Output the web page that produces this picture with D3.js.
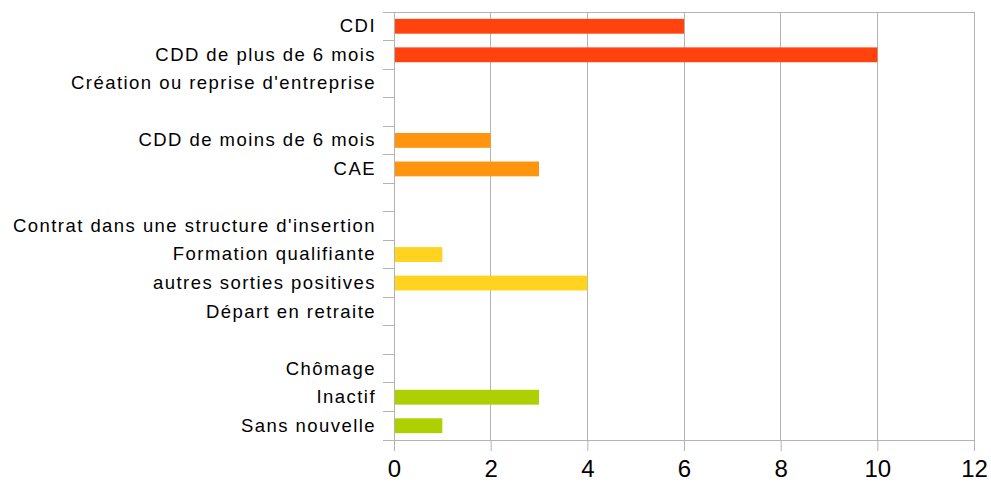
<!DOCTYPE html>
<html><head><meta charset="utf-8">
<script src="https://cdn.jsdelivr.net/npm/d3@7"></script>
<style>body{margin:0;background:#fff}svg{display:block}</style>
</head><body>
<svg id="c" width="991" height="483"></svg>
<script>
const categories = ["CDI","CDD de plus de 6 mois","Création ou reprise d'entreprise","_gap1","CDD de moins de 6 mois","CAE","_gap2","Contrat dans une structure d'insertion","Formation qualifiante","autres sorties positives","Départ en retraite","_gap3","Chômage","Inactif","Sans nouvelle"];
const values = [6,10,0,0,2,3,0,0,1,4,0,0,0,3,1];
const groups = [0,0,0,0,1,1,1,2,2,2,2,3,3,3,3];
const groupColors = ["#ff420e","#ff950e","#ffd320","#aecf00"];
const xTicks = [0,2,4,6,8,10,12];

const svg = d3.select("#c");
const L = 394, R = 974, T = 12, B = 440;
const x = d3.scaleLinear().domain([0,12]).range([L,R]);
const y = d3.scaleBand().domain(categories).range([T,B]).padding(0);

// vertical grid
svg.append("g").selectAll("line").data(xTicks).join("line")
  .attr("x1",d=>x(d)).attr("x2",d=>x(d)).attr("y1",T).attr("y2",B)
  .attr("stroke","#b3b3b3").attr("stroke-width",1).attr("shape-rendering","crispEdges");
// top line
svg.append("line").attr("x1",L-11).attr("x2",R).attr("y1",T).attr("y2",T)
  .attr("stroke","#b3b3b3").attr("shape-rendering","crispEdges");

// bars
const bh = y.bandwidth()*0.52;
svg.append("g").selectAll("rect").data(categories.map((c,i)=>({c,v:values[i],g:groups[i]})).filter(d=>d.v>0))
  .join("rect")
  .attr("x",x(0)).attr("width",d=>x(d.v)-x(0))
  .attr("y",d=>y(d.c)+(y.bandwidth()-bh)/2).attr("height",bh)
  .attr("fill",d=>groupColors[d.g]);

// y axis
const yAxis = d3.axisLeft(y).tickSize(0).tickPadding(18).tickFormat(d=>d.startsWith("_")?"":d);
const gy = svg.append("g").attr("transform",`translate(${L},0)`).call(yAxis);
gy.select(".domain").attr("stroke","#b3b3b3");
gy.selectAll("text").attr("font-family","'Liberation Sans', Arial, sans-serif").attr("font-size","18.5px")
  .attr("letter-spacing","1.45px").attr("fill","#000");
// category boundary ticks
const bounds = d3.range(categories.length+1).map(i=>T+i*y.step());
svg.append("g").selectAll("line").data(bounds).join("line")
  .attr("x1",L-11).attr("x2",L).attr("y1",d=>d).attr("y2",d=>d)
  .attr("stroke","#b3b3b3").attr("shape-rendering","crispEdges");

// x axis
const gx = svg.append("g").attr("transform",`translate(0,${B})`)
  .call(d3.axisBottom(x).tickValues(xTicks).tickSize(11).tickPadding(9).tickFormat(d3.format("d")));
gx.select(".domain").attr("stroke","#b3b3b3").attr("d",`M${L},0.5H${R}`);
gx.selectAll(".tick line").attr("stroke","#b3b3b3");
gx.selectAll("text").attr("font-family","'Liberation Sans', Arial, sans-serif").attr("font-size","24px").attr("fill","#000");
</script>
</body></html>
